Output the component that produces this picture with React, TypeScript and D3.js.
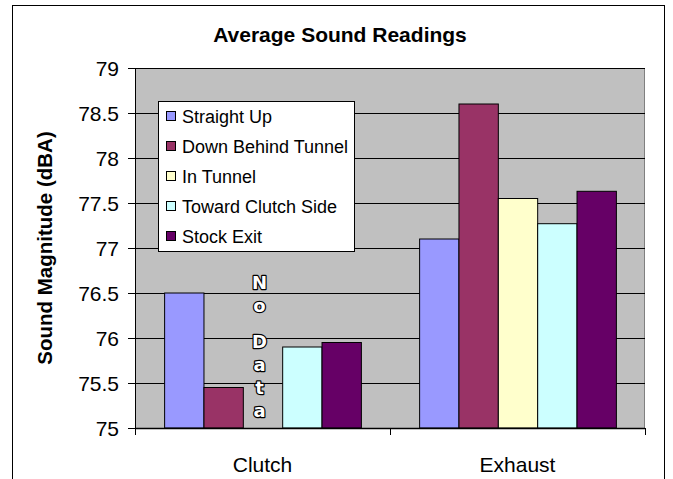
import React from "react";
import * as d3 from "d3";

const categories = ["Clutch", "Exhaust"];
const seriesNames = ["Straight Up", "Down Behind Tunnel", "In Tunnel", "Toward Clutch Side", "Stock Exit"];
const seriesColors = ["#9999FF", "#993366", "#FFFFCC", "#CCFFFF", "#660066"];
// null = no reading taken
const clutchValues: (number | null)[] = [76.5, 75.45, null, 75.9, 75.95];
const exhaustValues: (number | null)[] = [77.1, 78.6, 77.55, 77.27, 77.63];
const yTicks = [75, 75.5, 76, 76.5, 77, 77.5, 78, 78.5, 79];
const noDataLetters = ["N", "o", "", "D", "a", "t", "a"];

const W = 673;
const H = 479;
const plot = { left: 135, right: 645, top: 68, bottom: 428 };
const font = "'Liberation Sans', Arial, sans-serif";

export default function App() {
  const values = [clutchValues, exhaustValues];
  const y = d3.scaleLinear().domain([75, 79]).range([plot.bottom, plot.top]);
  const x0 = d3.scaleBand().domain(categories).range([plot.left, plot.right]).paddingInner(0).paddingOuter(0);
  const x1 = d3
    .scaleBand()
    .domain(seriesNames)
    .range([0, x0.bandwidth()])
    .paddingInner(0)
    .paddingOuter(0.74);

  const fmt = (v: number) => (Number.isInteger(v) ? String(v) : v.toFixed(1));
  const noDataX = (x0("Clutch") ?? 0) + (x1("In Tunnel") ?? 0) + x1.bandwidth() / 2 - 3;

  // stacked letters: a blank entry gives a shorter gap
  let cursor = 289;
  const noDataYs = noDataLetters.map((l) => {
    const yy = cursor;
    cursor += l === "" ? 13 : 23;
    return yy;
  });

  return (
    <svg
      width={W}
      height={H}
      style={{ position: "absolute", left: 0, top: 0, background: "#fff" }}
      fontFamily={font}
    >
      <rect x={12.5} y={5.5} width={652} height={490} fill="#fff" stroke="#000" strokeWidth={1} />
      <text x={340} y={42} textAnchor="middle" fontSize={21} fontWeight="bold">
        Average Sound Readings
      </text>

      {/* plot area */}
      <rect x={plot.left} y={plot.top} width={plot.right - plot.left} height={plot.bottom - plot.top} fill="#C0C0C0" />
      <line x1={plot.right - 0.5} x2={plot.right - 0.5} y1={plot.top} y2={plot.bottom} stroke="#808080" />

      {yTicks.map((t) => (
        <g key={t}>
          <line x1={plot.left - 7} x2={plot.right} y1={Math.round(y(t)) + 0.5} y2={Math.round(y(t)) + 0.5} stroke="#000" />
          <text x={119} y={y(t) + 7.5} textAnchor="end" fontSize={21}>
            {fmt(t)}
          </text>
        </g>
      ))}

      {/* bars */}
      {categories.map((c, ci) => (
        <g key={c} transform={`translate(${x0(c)},0)`}>
          {seriesNames.map((s, si) => {
            const v = values[ci][si];
            if (v === null) return null;
            return (
              <rect
                key={s}
                x={(x1(s) ?? 0) + 0.5}
                y={y(v)}
                width={x1.bandwidth()}
                height={plot.bottom - y(v)}
                fill={seriesColors[si]}
                stroke="#000"
                strokeWidth={1}
              />
            );
          })}
        </g>
      ))}

      {/* axes */}
      <line x1={plot.left + 0.5} x2={plot.left + 0.5} y1={plot.top} y2={plot.bottom} stroke="#000" />
      <line x1={plot.left} x2={plot.right} y1={plot.bottom + 0.5} y2={plot.bottom + 0.5} stroke="#000" strokeWidth={1.5} />
      {[plot.left, (x0("Exhaust") ?? 0), plot.right].map((tx, i) => (
        <line key={i} x1={tx + 0.5} x2={tx + 0.5} y1={plot.bottom} y2={plot.bottom + 7} stroke="#000" />
      ))}
      {categories.map((c) => (
        <text key={c} x={(x0(c) ?? 0) + x0.bandwidth() / 2} y={472} textAnchor="middle" fontSize={21}>
          {c}
        </text>
      ))}

      <text
        transform={`translate(52,${(plot.top + plot.bottom) / 2}) rotate(-90)`}
        textAnchor="middle"
        fontSize={20.5}
        fontWeight="bold"
      >
        Sound Magnitude (dBA)
      </text>

      {/* No Data note for the missing In Tunnel reading: white letters with a dark outline */}
      {noDataLetters.map((l, i) => (
        <text
          key={i}
          x={noDataX}
          y={noDataYs[i]}
          textAnchor="middle"
          fontSize={18}
          fontWeight="bold"
          fontFamily="'DejaVu Sans', sans-serif"
          fill="#fff"
          stroke="#000"
          strokeWidth={2.4}
          strokeLinejoin="round"
          paintOrder="stroke"
        >
          {l}
        </text>
      ))}

      {/* legend */}
      <rect x={158.5} y={101.5} width={196} height={150} fill="#fff" stroke="#000" />
      {seriesNames.map((s, i) => (
        <g key={s} transform={`translate(166,${116 + i * 30})`}>
          <rect x={0.5} y={-4.5} width={9} height={9} fill={seriesColors[i]} stroke="#000" />
          <text x={16} y={6.5} fontSize={18}>
            {s}
          </text>
        </g>
      ))}
    </svg>
  );
}
